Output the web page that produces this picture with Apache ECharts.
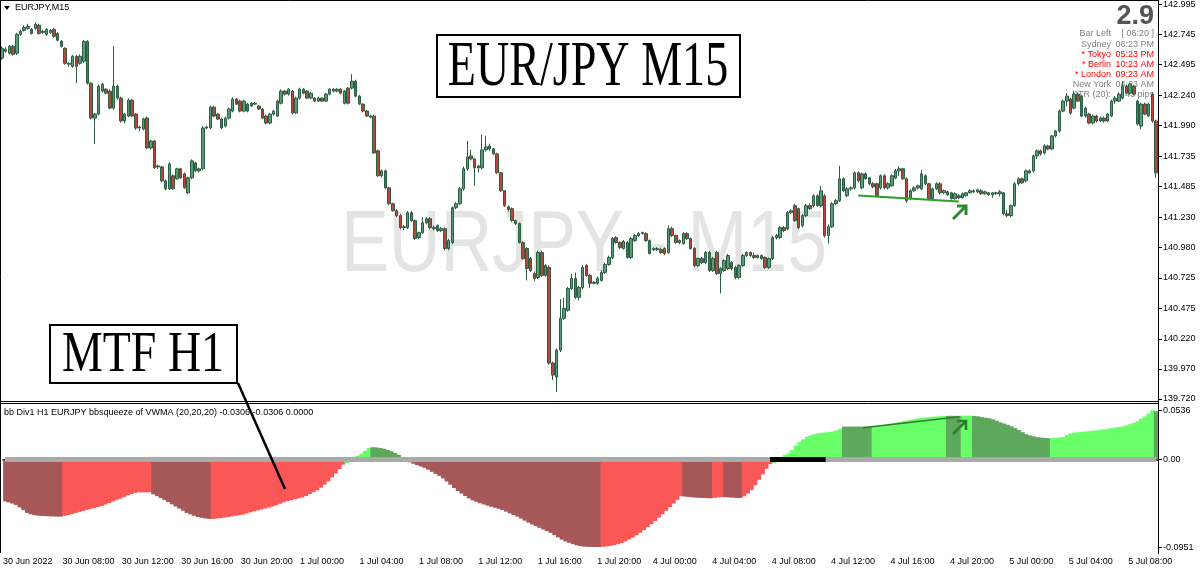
<!DOCTYPE html>
<html><head><meta charset="utf-8">
<script src="https://cdn.jsdelivr.net/npm/echarts@6/dist/echarts.min.js"></script>
<style>html,body{margin:0;padding:0;background:#fff}#c{width:1200px;height:575px}</style>
</head><body><div id="c"></div>
<script>
// ---- data ----
const sessions = [['30 Jun', 4, 80], ['1 Jul', 0, 95], ['4 Jul', 0, 96], ['5 Jul', 0, 40]];
const firstLabel = '30 Jun 2022';
const priceTicks = [142.995, 142.745, 142.495, 142.240, 141.990, 141.735, 141.485, 141.230, 140.980, 140.725, 140.475, 140.220, 139.970, 139.720];
const oscTicks = [0.0536, 0, -0.0951];
// [open, close, low, high]
const ohlc = [
[142.549,142.631,142.535,142.648],[142.607,142.623,142.595,142.640],[142.590,142.648,142.580,142.660],[142.648,142.582,142.570,142.660],
[142.590,142.747,142.575,142.760],[142.747,142.772,142.735,142.785],[142.780,142.805,142.770,142.822],[142.797,142.813,142.785,142.835],
[142.788,142.755,142.745,142.800],[142.797,142.830,142.785,142.845],[142.822,142.755,142.745,142.835],[142.764,142.772,142.750,142.785],
[142.747,142.788,142.735,142.800],[142.764,142.780,142.750,142.790],[142.788,142.731,142.720,142.800],[142.755,142.698,142.690,142.765],
[142.689,142.648,142.640,142.700],[142.631,142.507,142.495,142.640],[142.499,142.507,142.480,142.515],[142.482,142.565,142.470,142.575],
[142.565,142.482,142.340,142.575],[142.507,142.565,142.495,142.580],[142.524,142.689,142.510,142.700],[142.689,142.342,142.330,142.700],
[142.342,142.052,142.040,142.350],[142.052,142.085,141.837,142.095],[142.085,142.317,142.075,142.330],[142.276,142.334,142.265,142.345],
[142.292,142.259,142.250,142.300],[142.276,142.135,142.125,142.290],[142.135,142.317,142.120,142.648],[142.317,142.218,142.205,142.330],
[142.218,142.028,142.015,142.230],[142.028,142.085,142.010,142.095],[142.069,142.201,142.060,142.215],[142.201,142.069,142.060,142.210],
[142.085,141.970,141.955,142.095],[141.970,141.978,141.945,141.990],[141.961,142.044,141.950,142.055],[142.052,141.804,141.795,142.065],
[141.804,141.862,141.790,141.870],[141.862,141.639,141.630,141.870],[141.647,141.655,141.630,141.665],[141.647,141.531,141.520,141.655],
[141.531,141.465,141.455,141.540],[141.465,141.672,141.455,141.685],[141.573,141.465,141.455,141.585],[141.548,141.631,141.540,141.640],
[141.631,141.556,141.545,141.640],[141.589,141.473,141.465,141.600],[141.432,141.556,141.420,141.565],[141.556,141.697,141.545,141.710],
[141.680,141.614,141.605,141.690],[141.631,141.614,141.600,141.640],[141.631,141.970,141.620,141.985],[141.970,141.978,141.960,141.990],
[141.970,142.143,141.960,142.155],[142.143,142.069,142.060,142.155],[142.085,142.044,142.035,142.095],[142.044,141.970,141.960,142.055],
[141.986,142.052,141.975,142.065],[142.052,142.127,142.040,142.140],[142.110,142.210,142.100,142.225],[142.210,142.168,142.160,142.220],
[142.193,142.110,142.100,142.205],[142.110,142.193,142.100,142.205],[142.168,142.110,142.100,142.180],[142.176,142.152,142.145,142.185],
[142.168,142.176,142.160,142.185],[142.152,142.127,142.120,142.160],[142.127,142.052,142.045,142.135],[142.069,142.011,142.000,142.080],
[142.011,142.085,142.000,142.095],[142.085,142.110,142.075,142.120],[142.069,142.193,142.060,142.205],[142.176,142.276,142.165,142.290],
[142.276,142.251,142.240,142.285],[142.251,142.292,142.240,142.300],[142.276,142.094,142.085,142.285],[142.094,142.218,142.085,142.230],
[142.218,142.292,142.205,142.305],[142.292,142.259,142.250,142.300],[142.276,142.218,142.210,142.285],[142.218,142.259,142.210,142.270],
[142.218,142.193,142.185,142.225],[142.193,142.218,142.185,142.230],[142.218,142.193,142.185,142.225],[142.193,142.251,142.185,142.260],
[142.251,142.292,142.240,142.300],[142.292,142.276,142.265,142.300],[142.276,142.292,142.265,142.300],[142.292,142.259,142.250,142.300],
[142.176,142.276,142.165,142.285],[142.301,142.176,142.165,142.310],[142.301,142.358,142.290,142.416],[142.358,142.234,142.225,142.370],
[142.234,142.168,142.160,142.245],[142.168,142.110,142.100,142.175],[142.110,142.069,142.060,142.120],[142.069,142.060,142.050,142.080],
[142.069,141.763,141.755,142.080],[141.780,141.573,141.565,141.790],[141.573,141.614,141.560,141.625],[141.614,141.473,141.465,141.625],
[141.473,141.341,141.330,141.480],[141.341,141.283,141.275,141.350],[141.283,141.242,141.230,141.295],[141.242,141.143,141.130,141.255],
[141.143,141.150,141.120,141.165],[141.143,141.267,141.130,141.280],[141.267,141.201,141.190,141.280],[141.201,141.052,141.040,141.210],
[141.060,141.101,141.045,141.110],[141.101,141.184,141.090,141.230],[141.184,141.217,141.170,141.230],[141.217,141.143,141.130,141.230],
[141.143,141.134,141.120,141.160],[141.159,141.118,141.105,141.170],[141.118,141.134,141.105,141.150],[141.134,140.969,140.955,141.145],
[140.969,141.035,140.955,141.050],[141.019,141.308,141.005,141.320],[141.308,141.341,141.295,141.355],[141.341,141.465,141.330,141.480],
[141.465,141.631,141.450,141.650],[141.631,141.730,141.615,141.862],[141.738,141.713,141.700,141.790],[141.713,141.639,141.490,141.720],
[141.639,141.655,141.600,141.665],[141.639,141.788,141.625,141.912],[141.788,141.813,141.775,141.905],[141.821,141.796,141.780,141.840],
[141.796,141.755,141.745,141.805],[141.755,141.598,141.590,141.765],[141.598,141.449,141.440,141.605],[141.449,141.325,141.315,141.455],
[141.316,141.292,141.275,141.325],[141.300,141.201,141.190,141.310],[141.201,141.176,141.165,141.210],[141.176,141.019,141.010,141.185],
[141.019,140.886,140.875,141.030],[140.969,140.804,140.704,140.980],[140.886,140.787,140.775,140.900],[140.762,140.721,140.700,140.780],
[140.729,140.936,140.715,140.950],[140.936,140.746,140.735,140.950],[140.746,140.828,140.735,140.840],[140.812,140.018,140.005,140.830],
[140.018,139.919,139.877,140.030],[139.902,140.126,139.778,140.140],[140.126,140.390,140.110,140.550],[140.390,140.473,140.375,140.560],
[140.456,140.638,140.445,140.650],[140.638,140.721,140.625,140.760],[140.721,140.564,140.550,140.770],[140.564,140.646,140.540,140.660],
[140.646,140.812,140.630,140.830],[140.828,140.746,140.735,140.840],[140.746,140.680,140.640,140.760],[140.680,140.688,140.670,140.700],
[140.680,140.721,140.670,140.735],[140.704,140.771,140.695,140.790],[140.771,140.837,140.760,140.850],[140.837,140.895,140.825,140.910],
[140.895,141.052,140.880,141.065],[141.060,141.019,141.010,141.070],[141.019,140.977,140.965,141.030],[140.969,141.027,140.960,141.040],
[141.019,140.895,140.885,141.030],[140.895,141.052,140.880,141.065],[141.035,141.077,141.025,141.090],[141.077,141.093,141.065,141.105],
[141.093,141.101,141.085,141.110],[141.093,141.035,141.025,141.105],[141.035,140.928,140.920,141.045],[140.961,140.969,140.950,140.980],
[140.969,140.961,140.950,140.980],[140.961,140.936,140.925,140.975],[140.969,140.928,140.915,140.980],[140.936,141.134,140.925,141.160],
[141.134,141.077,141.065,141.150],[141.077,141.019,141.010,141.085],[141.019,141.035,141.005,141.045],[141.010,141.093,141.000,141.105],
[141.093,141.052,141.040,141.105],[141.052,140.969,140.960,141.060],[140.969,140.828,140.815,140.980],[140.828,140.886,140.815,140.895],
[140.886,140.853,140.840,140.900],[140.853,140.936,140.840,140.950],[140.936,140.787,140.775,140.950],[140.787,140.886,140.775,140.900],
[140.936,140.762,140.750,140.950],[140.762,140.804,140.597,140.815],[140.787,140.870,140.775,140.880],[140.804,140.911,140.790,140.925],
[140.853,140.804,140.790,140.865],[140.812,140.729,140.715,140.825],[140.729,140.828,140.715,140.840],[140.828,140.911,140.815,140.925],
[140.911,140.936,140.900,140.945],[140.936,140.911,140.900,140.945],[140.911,140.895,140.885,140.935],[140.911,140.895,140.885,140.920],
[140.911,140.886,140.875,140.920],[140.895,140.812,140.800,140.905],[140.812,140.886,140.800,140.895],[140.886,141.060,140.875,141.075],
[141.060,141.077,141.045,141.090],[141.060,141.143,141.050,141.155],[141.143,141.118,141.105,141.155],[141.134,141.267,141.120,141.280],
[141.267,141.283,141.255,141.295],[141.325,141.201,141.190,141.340],[141.300,141.143,141.130,141.310],[141.159,141.242,141.145,141.255],
[141.242,141.325,141.230,141.340],[141.325,141.300,141.290,141.345],[141.325,141.407,141.310,141.420],[141.407,141.325,141.315,141.420],
[141.325,141.449,141.310,141.490],[141.407,141.077,141.060,141.420],[141.077,141.150,141.010,141.170],[141.150,141.341,141.140,141.355],
[141.341,141.366,141.330,141.380],[141.366,141.548,141.355,141.655],[141.548,141.449,141.440,141.560],[141.407,141.465,141.395,141.480],
[141.465,141.473,141.450,141.485],[141.473,141.598,141.460,141.610],[141.598,141.531,141.520,141.610],[141.473,141.589,141.460,141.600],
[141.589,141.548,141.540,141.600],[141.556,141.507,141.495,141.565],[141.507,141.482,141.470,141.520],[141.507,141.407,141.395,141.515],
[141.473,141.573,141.460,141.585],[141.573,141.473,141.460,141.585],[141.473,141.507,141.460,141.520],[141.490,141.573,141.480,141.585],
[141.556,141.614,141.545,141.630],[141.614,141.631,141.570,141.650],[141.631,141.548,141.540,141.640],[141.548,141.366,141.350,141.560],
[141.383,141.449,141.370,141.460],[141.449,141.473,141.440,141.485],[141.473,141.490,141.460,141.500],[141.465,141.589,141.455,141.620],
[141.573,141.507,141.495,141.585],[141.507,141.383,141.370,141.515],[141.383,141.465,141.370,141.475],[141.465,141.507,141.455,141.520],
[141.507,141.432,141.420,141.520],[141.432,141.449,141.420,141.460],[141.440,141.415,141.405,141.450],[141.432,141.383,141.375,141.440],
[141.383,141.424,141.375,141.435],[141.407,141.391,141.380,141.420],[141.391,141.424,141.385,141.435],[141.407,141.432,141.400,141.440],
[141.432,141.449,141.425,141.460],[141.449,141.440,141.430,141.460],[141.440,141.457,141.430,141.465],[141.449,141.424,141.415,141.460],
[141.424,141.440,141.415,141.450],[141.432,141.415,141.405,141.440],[141.415,141.432,141.390,141.440],[141.432,141.424,141.415,141.440],
[141.424,141.440,141.400,141.455],[141.432,141.258,141.245,141.440],[141.258,141.242,141.230,141.290],[141.242,141.325,141.230,141.335],
[141.325,141.507,141.315,141.520],[141.507,141.548,141.495,141.560],[141.548,141.515,141.505,141.560],[141.531,141.614,141.520,141.625],
[141.614,141.598,141.590,141.625],[141.614,141.738,141.600,141.750],[141.738,141.780,141.710,141.790],[141.780,141.755,141.740,141.790],
[141.763,141.821,141.750,141.835],[141.821,141.796,141.785,141.830],[141.796,141.904,141.785,141.915],[141.904,141.945,141.890,141.955],
[141.945,142.110,141.930,142.125],[142.110,142.193,142.100,142.205],[142.193,142.234,142.150,142.260],[142.210,142.094,142.080,142.220],
[142.135,142.251,142.125,142.276],[142.251,142.193,142.185,142.265],[142.234,142.069,142.060,142.245],[142.069,142.135,142.055,142.145],
[142.085,142.011,142.000,142.095],[142.011,142.069,142.000,142.080],[142.069,142.028,142.015,142.080],[142.028,142.052,142.020,142.065],
[142.052,142.028,142.015,142.065],[142.028,142.085,142.020,142.095],[142.069,142.193,142.060,142.205],[142.193,142.218,142.170,142.235],
[142.193,142.251,142.185,142.265],[142.218,142.317,142.205,142.358],[142.317,142.259,142.250,142.330],[142.259,142.334,142.245,142.345],
[142.317,142.251,142.240,142.330],[142.193,142.003,141.990,142.205],[141.986,142.168,141.961,142.180],[142.168,142.085,142.075,142.180],
[142.069,142.168,142.060,142.180],[142.251,142.028,142.015,142.265],[142.028,141.598,141.556,142.040]
];
const hist = [
-0.0455,-0.0465,-0.0478,-0.0493,-0.052,-0.055,-0.058,-0.0595,-0.0605,-0.061,-0.0613,-0.0615,-0.0617,-0.0618,-0.062,-0.062,
-0.0612,-0.0603,-0.0592,-0.058,-0.0569,-0.0558,-0.0547,-0.0536,-0.0526,-0.0515,-0.0505,-0.049,-0.0472,-0.0455,-0.0438,-0.0425,-0.0408,-0.039,-0.0375,-0.0362,-0.0356,-0.0356,-0.0356,-0.0356,
-0.0378,-0.0398,-0.0418,-0.0439,-0.0462,-0.0486,-0.051,-0.0533,-0.0556,-0.058,-0.0597,-0.0612,-0.0625,-0.0633,-0.064,-0.0645,
-0.0646,-0.0641,-0.0636,-0.063,-0.0624,-0.0618,-0.0612,-0.0605,-0.0598,-0.0586,-0.0574,-0.0563,-0.0554,-0.0543,-0.0533,-0.0522,-0.0511,-0.0496,-0.0481,-0.0466,-0.0452,-0.0442,-0.0432,-0.0422,-0.0412,-0.0396,-0.0376,-0.0355,-0.0335,-0.0306,-0.0272,-0.0236,-0.0195,-0.0152,-0.0105,-0.0055,
-0.004,0.0002,0.001,0.004,0.0065,0.0095,0.0125,
0.0134,0.0132,0.0126,0.0118,0.0105,0.009,0.0072,0.005,
-0.001,-0.002,-0.003,-0.0045,-0.006,-0.0075,-0.009,-0.011,-0.0133,-0.0155,-0.0176,-0.0205,-0.0238,-0.0273,-0.031,-0.0342,-0.037,-0.0397,-0.0422,-0.0444,-0.046,-0.0475,-0.0488,-0.0501,-0.0513,-0.0524,-0.0536,-0.0548,-0.0566,-0.0585,-0.0603,-0.062,-0.0642,-0.0664,-0.0686,-0.0706,-0.0724,-0.0742,-0.076,-0.0778,-0.0797,-0.0822,-0.0846,-0.087,-0.089,-0.0905,-0.092,-0.0932,-0.0941,-0.0946,-0.0949,-0.095,-0.0951,-0.0951,
-0.0948,-0.0944,-0.0938,-0.093,-0.092,-0.0907,-0.089,-0.087,-0.0847,-0.0822,-0.0795,-0.0766,-0.0735,-0.0702,-0.0668,-0.0632,-0.0595,-0.0557,-0.0518,-0.0478,-0.0438,-0.0398,
-0.0402,-0.0406,-0.041,-0.0413,-0.0416,-0.0418,-0.042,-0.0421,
-0.0416,-0.0411,-0.0407,
-0.0409,-0.0412,-0.0414,-0.0416,-0.0417,
-0.040,-0.037,-0.033,-0.028,-0.022,-0.016,-0.010,-0.005,
-0.004,-0.001,0.0025,0.005,0.0068,0.0105,0.0152,0.019,0.022,0.0248,0.0264,0.0276,0.0285,0.0291,0.0296,0.03,0.0306,0.0318,0.0335,
0.0358,0.0358,0.0358,0.0358,0.0358,0.0358,0.0358,0.0358,
0.036,0.0365,0.037,0.0377,0.0385,0.0393,0.0401,0.0409,0.0417,0.0425,0.0433,0.0441,0.0449,0.0454,0.0458,0.0462,0.0466,0.0469,0.0472,0.0474,
0.0475,0.0475,0.0475,0.0475,
0.0476,0.0477,0.0477,
0.0474,0.047,0.0462,0.0455,0.0449,0.0438,0.0422,0.0405,0.0392,0.0378,0.0362,0.0342,0.032,0.0298,0.0276,0.0262,0.0252,0.0244,0.0239,0.0235,0.0232,
0.0233,0.0236,0.024,0.0244,0.0265,0.0284,0.0292,0.0297,0.0301,0.0305,0.0309,0.0313,0.0318,0.0322,0.0328,0.0335,0.0342,0.0348,0.0354,0.036,0.0372,0.0385,0.0398,0.0418,0.0445,0.047,0.05,0.0536,
0.0525
];
// colour runs of the histogram: [last bar index, shade]
const histRuns = [[15,'dr'],[39,'lr'],[55,'dr'],[91,'lr'],[98,'lg'],[106,'dg'],[160,'dr'],[182,'lr'],[190,'dr'],[193,'lr'],[198,'dr'],[206,'lr'],[225,'lg'],[233,'dg'],[253,'lg'],[257,'dg'],[260,'lg'],[281,'dg'],[309,'lg'],[310,'dg']];
const squeezeRange = [206, 221];
const trendMain = [[230, 141.41], [257, 141.36]];
const trendOsc = [[231, 0.0347], [257, 0.0466]];
const infoRows = [
  ['Bar Left', '[ 06:20 ]', '#808080'], ['Sydney', '06:23 PM', '#808080'], ['* Tokyo', '05:23 PM', '#ff0000'],
  ['* Berlin', '10:23 AM', '#ff0000'], ['* London', '09:23 AM', '#ff0000'], ['New York', '04:23 AM', '#808080'],
  ['ATR (20):', '43 pips', '#808080']
];

// ---- build ----
const cats = [];
sessions.forEach(([d, h0, n]) => {
  for (let k = 0; k < n; k++) {
    const m = h0 * 60 + k * 15;
    cats.push(d + ' ' + String(Math.floor(m / 60)).padStart(2, '0') + ':' + String(m % 60).padStart(2, '0'));
  }
});
const isMajor = (idx) => { const c = cats[idx]; if (!c) return false; const hh = +c.slice(-5, -3), mm = c.slice(-2); return mm === '00' && hh % 4 === 0; };
const shade = { dr: '#a65757', lr: '#fa5757', lg: '#69ff69', dg: '#5ea85e' };
const shadeOf = (i) => { for (const [end, s] of histRuns) if (i <= end) return shade[s]; return shade.lg; };
const FONT = 'Liberation Sans, Arial, sans-serif';

const chart = echarts.init(document.getElementById('c'), null, { renderer: 'canvas' });
const G = { l: 0, w: 1158 };
const texts = [];
infoRows.forEach((r, k) => {
  const y = 34 + k * 10.1;
  texts.push({ type: 'text', z: 0, style: { text: r[0], x: 1111, y, textAlign: 'right', textVerticalAlign: 'middle', fill: r[2], font: '9px ' + FONT } });
  texts.push({ type: 'text', z: 0, style: { text: r[1], x: 1154, y, textAlign: 'right', textVerticalAlign: 'middle', fill: r[2], font: '9px ' + FONT } });
});

chart.setOption({
  animation: false,
  backgroundColor: '#fff',
  grid: [
    { left: G.l, top: 0, width: G.w, height: 401 },
    { left: G.l, top: 404, width: G.w, height: 149 }
  ],
  xAxis: [
    { type: 'category', gridIndex: 0, data: cats, show: false },
    { type: 'category', gridIndex: 1, data: cats,
      axisLine: { lineStyle: { color: '#333', width: 2 } },
      axisTick: { alignWithLabel: true, length: 4, interval: (i) => isMajor(i), lineStyle: { color: '#000' } },
      axisLabel: { interval: (i) => isMajor(i), formatter: (v, i) => (i === 0 ? firstLabel : v), align: 'left', margin: 4,
        color: '#000', fontSize: 9, fontFamily: FONT, padding: [0, 0, 0, -2] },
      splitLine: { show: false } }
  ],
  yAxis: [
    { type: 'value', gridIndex: 0, position: 'right', min: 139.7035, max: 143.0198,
      splitLine: { show: false },
      axisLine: { show: true, lineStyle: { color: '#000' } },
      axisTick: { show: true, length: 4, customValues: priceTicks, lineStyle: { color: '#000' } },
      axisLabel: { customValues: priceTicks, formatter: (v) => v.toFixed(3), color: '#000', fontSize: 9, fontFamily: FONT, margin: 5 } },
    { type: 'value', gridIndex: 1, position: 'right', min: -0.1016, max: 0.0604,
      splitLine: { show: false },
      axisLine: { show: true, lineStyle: { color: '#000' } },
      axisTick: { show: true, length: 4, customValues: oscTicks, lineStyle: { color: '#000' } },
      axisLabel: { customValues: oscTicks, formatter: (v) => (v === 0 ? '0.00' : v.toFixed(4)), color: '#000', fontSize: 9, fontFamily: FONT, margin: 5 } }
  ],
  series: [
    { type: 'candlestick', xAxisIndex: 0, yAxisIndex: 0, data: ohlc, barWidth: 3, z: 3,
      itemStyle: { color: '#5b9a78', color0: '#b8473a', borderColor: '#2c5e44', borderColor0: '#2c5e44', borderWidth: 1 },
      markLine: { silent: true, symbol: 'none', label: { show: false }, animation: false,
        lineStyle: { color: '#2aa02a', width: 2, type: 'solid' },
        data: [[{ coord: trendMain[0] }, { coord: trendMain[1] }]] } },
    { type: 'bar', xAxisIndex: 1, yAxisIndex: 1, barWidth: 4.6, barGap: '-100%', z: 2,
      data: hist.map((v, i) => ({ value: v, itemStyle: { color: shadeOf(i) } })),
      markLine: { silent: true, symbol: 'none', label: { show: false }, animation: false,
        data: [
          [{ coord: [0, 0], lineStyle: { color: '#aaaaaa', width: 5, type: 'solid' } }, { coord: [cats.length - 1, 0] }],
          [{ coord: [squeezeRange[0], 0], lineStyle: { color: '#000', width: 5, type: 'solid' } }, { coord: [squeezeRange[1], 0] }],
          [{ coord: trendOsc[0], lineStyle: { color: '#2d7a2d', width: 1.5, type: 'solid' } }, { coord: trendOsc[1] }]
        ] } }
  ],
  graphic: [
    { type: 'text', z: 0, style: { text: 'EURJPY - M15', x: 584, y: 247, textAlign: 'center', textVerticalAlign: 'middle', fill: '#e4e4e4', font: '88px ' + FONT }, scaleX: 0.815, originX: 584, originY: 247 },
    ...texts,
    { type: 'text', z: 0, style: { text: '2.9', x: 1154, y: 17, textAlign: 'right', textVerticalAlign: 'middle', fill: '#555', font: 'bold 27px ' + FONT } },
    { type: 'polygon', z: 50, shape: { points: [[4, 6], [10, 6], [7, 10]] }, style: { fill: '#000' } },
    { type: 'text', z: 50, style: { text: 'EURJPY,M15', x: 15, y: 8, textAlign: 'left', textVerticalAlign: 'middle', fill: '#000', font: '9px ' + FONT } },
    { type: 'text', z: 50, style: { text: 'bb Div1 H1 EURJPY bbsqueeze of VWMA (20,20,20) -0.0306 -0.0306 0.0000', x: 4, y: 413, textAlign: 'left', textVerticalAlign: 'middle', fill: '#000', font: '9px ' + FONT } },
    // frame
    { type: 'line', z: 60, shape: { x1: 0, y1: 0.5, x2: 1158, y2: 0.5 }, style: { stroke: '#000', lineWidth: 1 } },
    { type: 'line', z: 60, shape: { x1: 0.5, y1: 0, x2: 0.5, y2: 553 }, style: { stroke: '#000', lineWidth: 1 } },
    { type: 'line', z: 60, shape: { x1: 0, y1: 401.5, x2: 1158, y2: 401.5 }, style: { stroke: '#000', lineWidth: 1 } },
    { type: 'line', z: 60, shape: { x1: 0, y1: 403.5, x2: 1158, y2: 403.5 }, style: { stroke: '#000', lineWidth: 1 } },
    { type: 'line', z: 60, shape: { x1: 1158.5, y1: 0, x2: 1158.5, y2: 554 }, style: { stroke: '#000', lineWidth: 1 } },
    // annotation boxes
    { type: 'rect', z: 80, shape: { x: 437, y: 35, width: 303, height: 62 }, style: { fill: '#fff', stroke: '#000', lineWidth: 2 } },
    { type: 'text', z: 81, x: 588, y: 68, scaleX: 0.72, style: { text: 'EUR/JPY M15', x: 0, y: 0, textAlign: 'center', textVerticalAlign: 'middle', fill: '#000', font: '64px Liberation Serif, Times New Roman, serif' } },
    { type: 'rect', z: 80, shape: { x: 50, y: 325, width: 187, height: 58 }, style: { fill: '#fff', stroke: '#000', lineWidth: 2 } },
    { type: 'text', z: 81, x: 143, y: 356, scaleX: 0.82, style: { text: 'MTF H1', x: 0, y: 0, textAlign: 'center', textVerticalAlign: 'middle', fill: '#000', font: '56px Liberation Serif, Times New Roman, serif' } },
    { type: 'line', z: 80, shape: { x1: 238, y1: 383, x2: 285, y2: 489 }, style: { stroke: '#000', lineWidth: 2.5 } },
    // arrows
    { type: 'polyline', z: 70, shape: { points: [[953, 219], [966, 206]] }, style: { stroke: '#2c8c2c', lineWidth: 3 } },
    { type: 'polyline', z: 70, shape: { points: [[957, 206], [966, 206], [966, 215]] }, style: { stroke: '#2c8c2c', lineWidth: 3, fill: null } },
    { type: 'polyline', z: 70, shape: { points: [[953, 434], [966, 421]] }, style: { stroke: '#2e7a2e', lineWidth: 2.5 } },
    { type: 'polyline', z: 70, shape: { points: [[957, 421], [966, 421], [966, 430]] }, style: { stroke: '#2e7a2e', lineWidth: 2.5, fill: null } }
  ]
});
</script></body></html>
